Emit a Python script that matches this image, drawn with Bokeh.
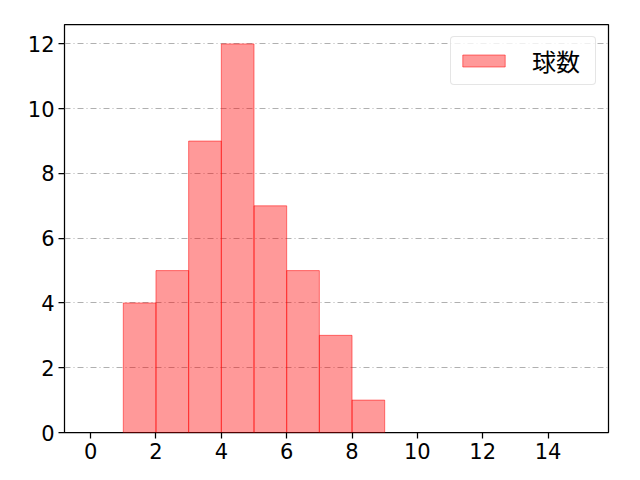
from bokeh.plotting import figure
from bokeh.models import Range1d, FixedTicker, ColumnDataSource, Legend, LegendItem
from bokeh.embed import file_html
from bokeh.resources import INLINE

bin_left = [1, 2, 3, 4, 5, 6, 7, 8]
bin_right = [2, 3, 4, 5, 6, 7, 8, 9]
counts = [4, 5, 9, 12, 7, 5, 3, 1]
x_ticks = [0, 2, 4, 6, 8, 10, 12, 14]
y_ticks = [0, 2, 4, 6, 8, 10, 12]
series_name = "球数"

FONT = "Noto Sans CJK JP"
TICK_FONT = "DejaVu Sans"

p = figure(width=632, height=472, output_backend="svg", toolbar_location=None,
           x_range=Range1d(-0.8, 15.85), y_range=Range1d(0, 12.6),
           min_border_left=64, min_border_top=24, min_border_right=24, min_border_bottom=40)

src = ColumnDataSource(dict(left=bin_left, right=bin_right, top=counts, bottom=[0]*len(counts)))
r = p.quad(left="left", right="right", top="top", bottom="bottom", source=src,
           fill_color="red", fill_alpha=0.4, line_color="red", line_alpha=0.5, line_width=1)

p.outline_line_color="black"
p.outline_line_width=1.25
p.outline_line_alpha=1
for ax in (p.xaxis[0], p.yaxis[0]):
    ax.axis_line_color=None
    ax.major_tick_out=6
    ax.major_tick_in=0
    ax.minor_tick_line_color=None
    ax.major_tick_line_width=1.25
    ax.major_label_text_font=TICK_FONT
    ax.major_label_text_font_size="21px"
    ax.major_label_text_color="black"
    ax.major_label_standoff=4
p.xaxis.ticker=FixedTicker(ticks=x_ticks)
p.yaxis.ticker=FixedTicker(ticks=y_ticks)

p.xgrid.grid_line_color=None
p.ygrid.grid_line_color="#b0b0b0"
p.ygrid.grid_line_dash="6 3 1 3"
p.ygrid.grid_line_width=1

legend = Legend(items=[LegendItem(label=series_name, renderers=[r])], location="top_right")
legend.label_text_font=FONT
legend.label_text_font_size="24px"
legend.label_text_color="black"
legend.glyph_width=53
legend.glyph_height=15
legend.label_height=34
legend.label_width=57
legend.label_standoff=22
legend.padding=6
legend.margin=12
legend.border_line_color="#cccccc"
legend.border_line_width=1
legend.border_radius=4
legend.background_fill_alpha=0.8
p.add_layout(legend)

open("out.html","w").write(file_html(p, INLINE))
